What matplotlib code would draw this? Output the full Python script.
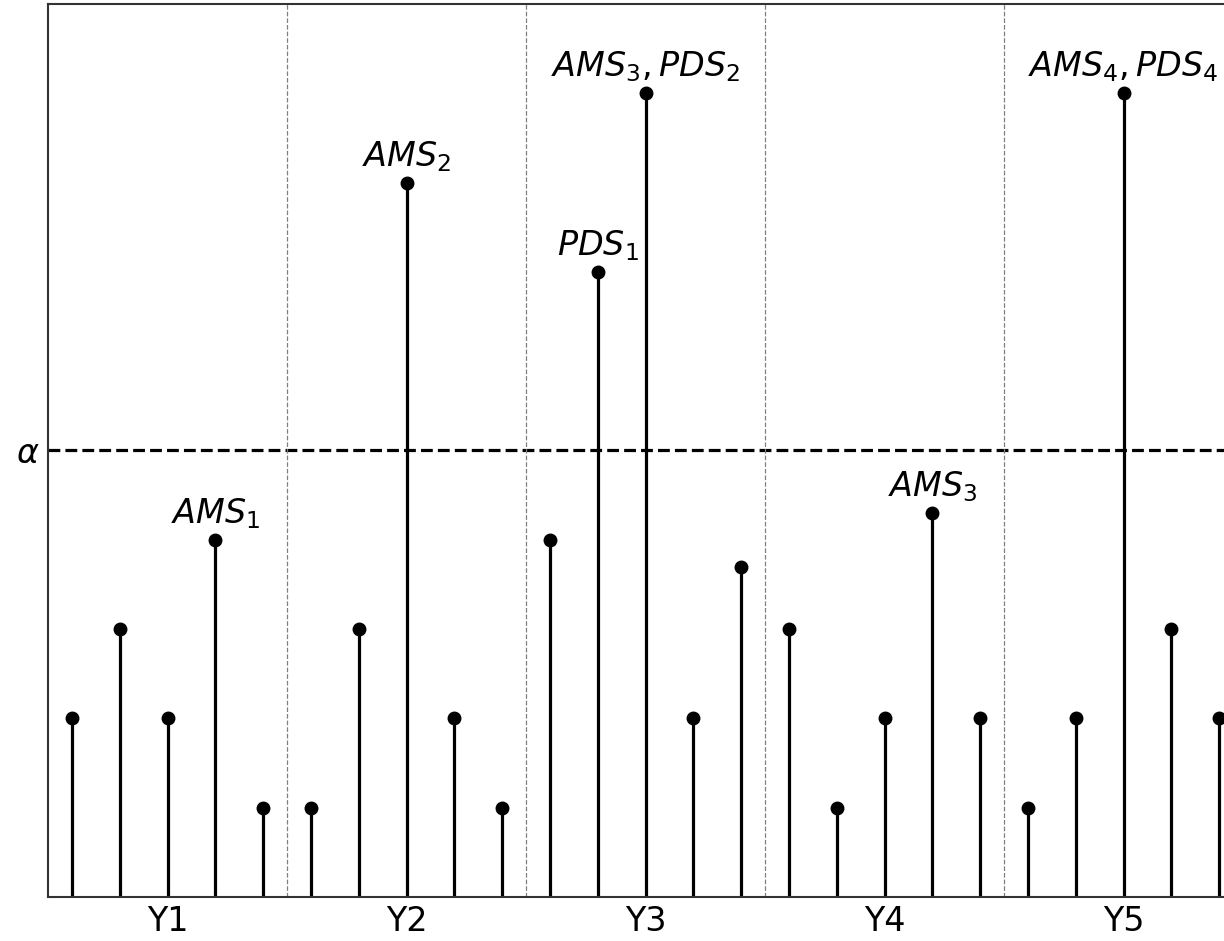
import numpy as np
import matplotlib.pyplot as plt

years = ["Y1", "Y2", "Y3", "Y4", "Y5"]
values = [2, 3, 2, 4, 1,
          1, 3, 8, 2, 1,
          4, 7, 9, 2, 3.7,
          3, 1, 2, 4.3, 2,
          1, 2, 9, 3, 2]
threshold = 5
ann_idx = [3, 7, 11, 12, 18, 22]
ann_text = [r"$AMS_1$", r"$AMS_2$", r"$PDS_1$", r"$AMS_3, PDS_2$",
            r"$AMS_3$", r"$AMS_4, PDS_4$"]

x = np.arange(1, len(values) + 1)
per_year = 5

fig = plt.figure(figsize=(12.24, 9.41), dpi=100)
ax = fig.add_axes([48 / 1224, 44 / 941, 1195 / 1224, 893 / 941])

ax.vlines(x, 0, values, color="black", linewidth=2.3)
ax.plot(x, values, "o", color="black", markersize=9)

ax.axhline(threshold, color="black", linestyle="--", linewidth=2.3)
for k in range(1, len(years)):
    ax.axvline(k * per_year + 0.5, color="gray", linestyle="--", linewidth=0.9)

for i, t in zip(ann_idx, ann_text):
    ax.annotate(t, (x[i], values[i]), xytext=(0, 6.5), textcoords="offset points",
                ha="center", va="bottom", fontsize=24)

centers = [k * per_year + 3 for k in range(len(years))]
ax.set_xticks(centers)
ax.set_xticklabels(years, fontsize=24)
ax.set_yticks([threshold])
ax.set_yticklabels([r"$\alpha$"], fontsize=24)
ax.tick_params(length=0, pad=6)
ax.set_xlim(0.5, 25.5)
ax.set_ylim(0, 10)
for s in ax.spines.values():
    s.set_linewidth(1.5)
    s.set_color("#333333")

fig.savefig("out.png", dpi=100)
plt.close("all")
